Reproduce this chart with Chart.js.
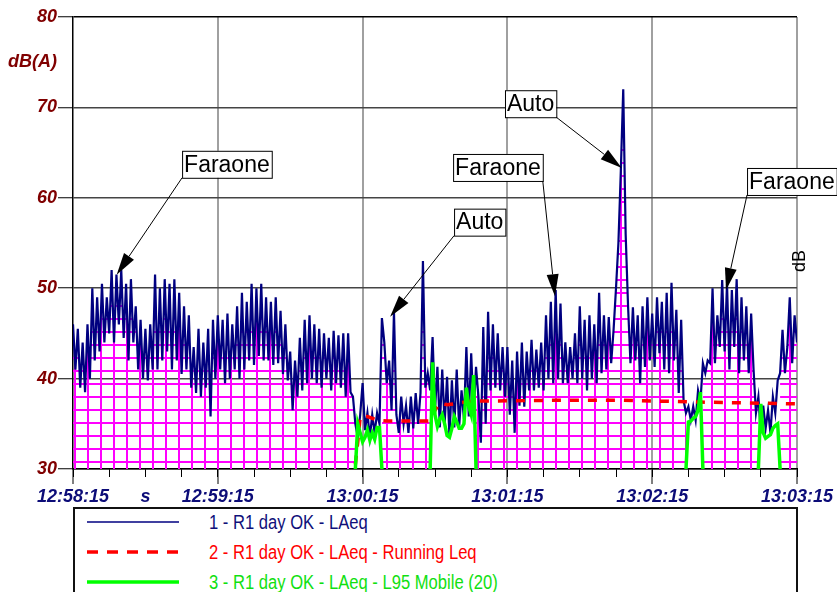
<!DOCTYPE html>
<html>
<head>
<meta charset="utf-8">
<script src="https://cdn.jsdelivr.net/npm/chart.js@4.4.1/dist/chart.umd.min.js"></script>
<style>
    html, body { margin: 0; padding: 0; background: #fff; overflow: hidden; }
    #wrap { position: relative; width: 837px; height: 592px; }
    #chart { position: absolute; left: 0; top: 0; }
    .legend {
        position: absolute; left: 73px; top: 507px; width: 725px; height: 110px;
        border: 2px solid #111; box-sizing: border-box; background: #fff;
        font-family: "Liberation Sans", Arial, sans-serif;
        font-size: 20px;
    }
    .legend .row { position: absolute; left: 0; height: 30px; width: 100%; }
    .legend svg { position: absolute; left: 12px; top: 0; }
    .legend span {
        position: absolute; left: 134px; top: 0; line-height: 30px; white-space: nowrap;
        transform: scaleX(0.83); transform-origin: left center;
    }
</style>
</head>
<body>
<div id="wrap">
    <canvas id="chart" width="837" height="592"></canvas>
    <div class="legend" id="legend"></div>
</div>
<script>
// Asse X: secondi dall'inizio (12:58:15)
const tickSeconds = [0, 30, 60, 120, 180, 240, 300];
const tickLabels = ['12:58:15', 's', '12:59:15', '13:00:15', '13:01:15', '13:02:15', '13:03:15'];

// 1 - LAeq, un valore al secondo (t = 0 ... 300)
const laeq = [
    46, 41, 45.5, 39, 44, 38.5, 46, 40, 50, 42,
    49, 43, 50.5, 44, 49, 45, 52, 44, 51.5, 46,
    52, 44.5, 50.5, 42, 51, 44, 48, 41, 46.5, 40,
    45.5, 39.8, 46, 41, 51.5, 41, 50, 42, 51, 43,
    50.5, 41, 51, 42, 49.5, 40.5, 48, 41, 47, 39,
    43.5, 38.4, 45.5, 38, 44, 39, 45.5, 35.8, 46.5, 40,
    47, 41, 46.5, 39.5, 47.2, 40, 46, 41, 48, 40,
    49.5, 41, 48.5, 42, 50.5, 41.5, 50, 42.5, 50.5, 42,
    49, 42, 48.5, 41.5, 49, 41.7, 47.5, 40.5, 46, 39.8,
    43, 36.5, 42, 38, 44.5, 38.7, 46.5, 39.5, 47, 40,
    46, 39.5, 45.5, 39, 45, 40, 44.5, 38.7, 45.3, 39.5,
    44.8, 39, 45, 38, 45, 38.5, 38, 35, 33.5, 36,
    39.5, 34.3, 36.2, 33.5, 36, 34, 36.2, 35, 46.7, 44,
    39.5, 42, 36.5, 47.4, 36, 34, 38, 35, 37, 34,
    38, 34.5, 38.4, 35, 38.4, 53, 39, 40.6, 38.7, 44.6,
    36.5, 41.3, 34.6, 41, 35, 40.2, 33.5, 39.8, 34.6, 41,
    34.6, 38.7, 35.5, 43.5, 35.8, 42.8, 36, 41.3, 38, 32.9,
    45.7, 35, 47.4, 38.7, 46, 39, 45, 38.7, 43.5, 38,
    43.5, 36, 42, 34, 43, 37, 44, 36.9, 43, 38.7,
    44.3, 38.7, 43.2, 39, 44, 38.7, 47, 40, 48.5, 39.5,
    49.8, 40, 48.3, 39.5, 44, 39.5, 43.5, 40, 45, 39.5,
    48, 40, 46.5, 38.7, 47, 40, 46, 39.5, 49.5, 40.6,
    47, 41, 46.8, 41.7, 45.4, 50, 55, 63, 72, 56,
    48, 41.7, 47.9, 42, 47, 39.5, 48, 41.3, 49, 42,
    47.2, 41.3, 49, 42.8, 48.5, 41, 49.5, 40.6, 50.6, 42,
    47.6, 38.4, 46.5, 37.6, 36.2, 36.9, 35.4, 36.9, 35.4, 38.7,
    37.5, 41.7, 40.6, 42, 41.7, 50, 41.7, 47, 43.5, 50.9,
    43, 50.5, 41, 49.8, 43.5, 51, 40.6, 49, 42, 48,
    40.6, 47.2, 41, 36.2, 38, 34, 37, 34.5, 36.5, 34,
    38, 36.2, 39.8, 40.6, 45.4, 40.6, 43.5, 49, 41.7, 47,
    44
];

// 2 - Running Leq
const runningTimes = [117, 118, 119, 122, 126, 130, 148, 150, 152, 155, 165, 200, 228, 260, 280, 300];
const runningValues = [30.5, 33, 35.8, 35.8, 35.4, 35.3, 35.3, 36.5, 37.3, 37.1, 37.5, 37.6, 37.6, 37.4, 37.3, 37.2];

// 3 - L95 Mobile (20), solo a tratti
const l95Starts = [117, 148, 254, 284];
const l95Segments = [
    [30, 35, 34, 33, 33.5, 34.3, 33.2, 34, 33.3, 34.6, 34.6, 30],
    [30, 41.8, 36, 34.7, 35.5, 36, 35, 33.7, 33.5, 34.5, 35.8, 35.2, 34.5, 34.5, 35, 39, 36.9, 36, 40.4, 30],
    [30, 35.2, 35.3, 35.6, 35.8, 36.5, 38.5, 30],
    [30, 37.2, 34, 33.4, 33.6, 33.8, 34.5, 34.8, 35, 30]
];

// Etichette con freccia: punto indicato e angolo del riquadro (in secondi / dB)
const notes = [
    { text: 'Faraone', tipX: 18.1, tipY: 51.5, boxX: 45.2, boxY: 65.2 },
    { text: 'Auto', tipX: 131.4, tipY: 46.85, boxX: 157.9, boxY: 58.8 },
    { text: 'Faraone', tipX: 199.7, tipY: 49.1, boxX: 157.5, boxY: 64.85 },
    { text: 'Auto', tipX: 227.4, tipY: 63.3, boxX: 179.0, boxY: 71.9 },
    { text: 'Faraone', tipX: 270.6, tipY: 49.8, boxX: 279.3, boxY: 63.3 }
];

const legendItems = [
    { text: '1 - R1 day OK - LAeq', color: '#10107a', line: '#000080', width: 1.5, dash: '' },
    { text: '2 - R1 day OK - LAeq - Running Leq', color: '#ff0000', line: '#ff0000', width: 3.5, dash: '11 9' },
    { text: '3 - R1 day OK - LAeq - L95 Mobile (20)', color: '#11e011', line: '#00ff00', width: 3.5, dash: '' }
];

const FONT = '"Liberation Sans", Arial, sans-serif';

// Retino magenta sotto la curva
function makeHatch() {
    const c = document.createElement('canvas');
    c.width = 13;
    c.height = 13;
    const g = c.getContext('2d');
    g.fillStyle = '#ff00ff';
    g.fillRect(9, 0, 2, 13);
    g.fillRect(0, 6, 13, 2);
    return g.createPattern(c, 'repeat');
}

function inL95Gap(t) {
    return l95Starts.some((s, i) => t > s && t < s + l95Segments[i].length - 1);
}

const laeqPoints = laeq.map((v, t) => ({ x: t, y: v }));
const hatchPoints = laeq.map((v, t) => ({ x: t, y: inL95Gap(t) ? null : v }));
const runningPoints = runningTimes.map((t, i) => ({ x: t, y: runningValues[i] }));
const l95Points = [];
l95Segments.forEach((seg, i) => {
    seg.forEach((v, k) => l95Points.push({ x: l95Starts[i] + k, y: v }));
    l95Points.push({ x: l95Starts[i] + seg.length - 0.5, y: null });
});

const extrasPlugin = {
    id: 'extras',
    afterDraw(chart) {
        const { ctx, scales: { x, y } } = chart;
        ctx.save();

        // Titolo asse Y
        ctx.font = 'italic bold 18px ' + FONT;
        ctx.fillStyle = '#800000';
        ctx.textAlign = 'right';
        ctx.textBaseline = 'middle';
        ctx.fillText('dB(A)', 57, y.getPixelForValue(75));

        // "dB" verticale a destra
        ctx.save();
        ctx.translate(x.right + 3, y.getPixelForValue(53));
        ctx.rotate(-Math.PI / 2);
        ctx.font = '18px ' + FONT;
        ctx.fillStyle = '#000';
        ctx.textAlign = 'center';
        ctx.textBaseline = 'middle';
        ctx.fillText('dB', 0, 0);
        ctx.restore();

        // Etichette con freccia
        ctx.font = '23px ' + FONT;
        notes.forEach(n => {
            const tx = x.getPixelForValue(n.tipX);
            const ty = y.getPixelForValue(n.tipY);
            const bx = x.getPixelForValue(n.boxX);
            const by = y.getPixelForValue(n.boxY);
            const w = ctx.measureText(n.text).width + 4;
            const h = 27;
            const sx = tx < bx ? bx : bx + w;
            const sy = by + h;

            const ang = Math.atan2(ty - sy, tx - sx);
            const len = 22, half = 6;
            const baseX = tx - len * Math.cos(ang);
            const baseY = ty - len * Math.sin(ang);
            ctx.strokeStyle = '#000';
            ctx.lineWidth = 1;
            ctx.beginPath();
            ctx.moveTo(sx, sy);
            ctx.lineTo(baseX, baseY);
            ctx.stroke();
            ctx.fillStyle = '#000';
            ctx.beginPath();
            ctx.moveTo(tx, ty);
            ctx.lineTo(baseX + half * Math.sin(ang), baseY - half * Math.cos(ang));
            ctx.lineTo(baseX - half * Math.sin(ang), baseY + half * Math.cos(ang));
            ctx.closePath();
            ctx.fill();

            ctx.fillStyle = '#fff';
            ctx.fillRect(bx, by, w, h);
            ctx.strokeRect(bx + 0.5, by + 0.5, w, h);
            ctx.fillStyle = '#000';
            ctx.textAlign = 'left';
            ctx.textBaseline = 'middle';
            ctx.fillText(n.text, bx + 2, by + h / 2 + 1);
        });
        ctx.restore();
    }
};

new Chart(document.getElementById('chart'), {
    type: 'line',
    data: {
        datasets: [
            {
                data: l95Points,
                borderColor: '#00ff00',
                borderWidth: 3.5,
                pointRadius: 0,
                spanGaps: false,
                fill: false,
                order: 1
            },
            {
                data: runningPoints,
                borderColor: '#ff0000',
                borderWidth: 3.5,
                borderDash: [9, 9],
                pointRadius: 0,
                fill: false,
                order: 2
            },
            {
                data: laeqPoints,
                borderColor: '#000080',
                borderWidth: 2.2,
                pointRadius: 0,
                fill: false,
                order: 3
            },
            {
                data: hatchPoints,
                borderWidth: 0,
                borderColor: 'transparent',
                backgroundColor: makeHatch(),
                pointRadius: 0,
                spanGaps: false,
                fill: 'start',
                order: 4
            }
        ]
    },
    options: {
        responsive: false,
        animation: false,
        events: [],
        layout: { padding: { left: 0, top: 17, right: 40, bottom: 0 } },
        plugins: { legend: { display: false }, tooltip: { enabled: false } },
        scales: {
            x: {
                type: 'linear',
                min: 0,
                max: 300,
                position: 'bottom',
                weight: 1,
                afterBuildTicks: scale => {
                    scale.ticks = tickSeconds.map(v => ({ value: v }));
                },
                afterFit: scale => {
                    scale.height = 123;
                    scale.paddingLeft = 0;
                    scale.paddingRight = 0;
                },
                ticks: {
                    autoSkip: false,
                    maxRotation: 0,
                    padding: 2,
                    color: '#0c0c78',
                    font: { family: FONT, size: 18, style: 'italic', weight: 'bold' },
                    callback: value => tickLabels[tickSeconds.indexOf(value)]
                },
                grid: {
                    color: c => (c.tick && c.tick.value % 60 === 0 && c.tick.value > 0) ? '#a0a0a0' : 'transparent',
                    lineWidth: 2,
                    tickLength: 15,
                    tickColor: c => (c.tick && c.tick.value === 30) ? 'transparent' : '#000',
                    tickWidth: 1
                },
                border: { color: '#000', width: 1.5 }
            },
            xMinor: {
                type: 'linear',
                min: 0,
                max: 300,
                position: 'bottom',
                weight: 0,
                afterFit: scale => {
                    scale.height = 0;
                    scale.paddingLeft = 0;
                    scale.paddingRight = 0;
                },
                ticks: { stepSize: 15, display: false },
                grid: { drawOnChartArea: false, tickLength: 8, tickColor: '#000', tickWidth: 1 },
                border: { display: false }
            },
            y: {
                min: 30,
                max: 80,
                afterFit: scale => {
                    scale.width = 73;
                    scale.paddingTop = 0;
                    scale.paddingBottom = 0;
                },
                ticks: {
                    stepSize: 10,
                    padding: 1,
                    color: '#800000',
                    font: { family: FONT, size: 18, style: 'italic', weight: 'bold' }
                },
                grid: {
                    color: c => (c.tick && c.tick.value === 80) ? '#000' : '#444',
                    lineWidth: 1.5,
                    tickLength: 15,
                    tickColor: '#000',
                    tickWidth: 1
                },
                border: { color: '#000', width: 1.5 }
            }
        }
    },
    plugins: [extrasPlugin]
});

// Legenda
const legend = document.getElementById('legend');
legendItems.forEach((item, i) => {
    const row = document.createElement('div');
    row.className = 'row';
    row.style.top = (30 * i - 2) + 'px';
    row.innerHTML =
        '<svg width="95" height="30"><line x1="0" y1="15" x2="92" y2="15" stroke="' + item.line +
        '" stroke-width="' + item.width + '"' + (item.dash ? ' stroke-dasharray="' + item.dash + '"' : '') +
        '/></svg><span style="color:' + item.color + '">' + item.text + '</span>';
    legend.appendChild(row);
});
</script>
</body>
</html>
